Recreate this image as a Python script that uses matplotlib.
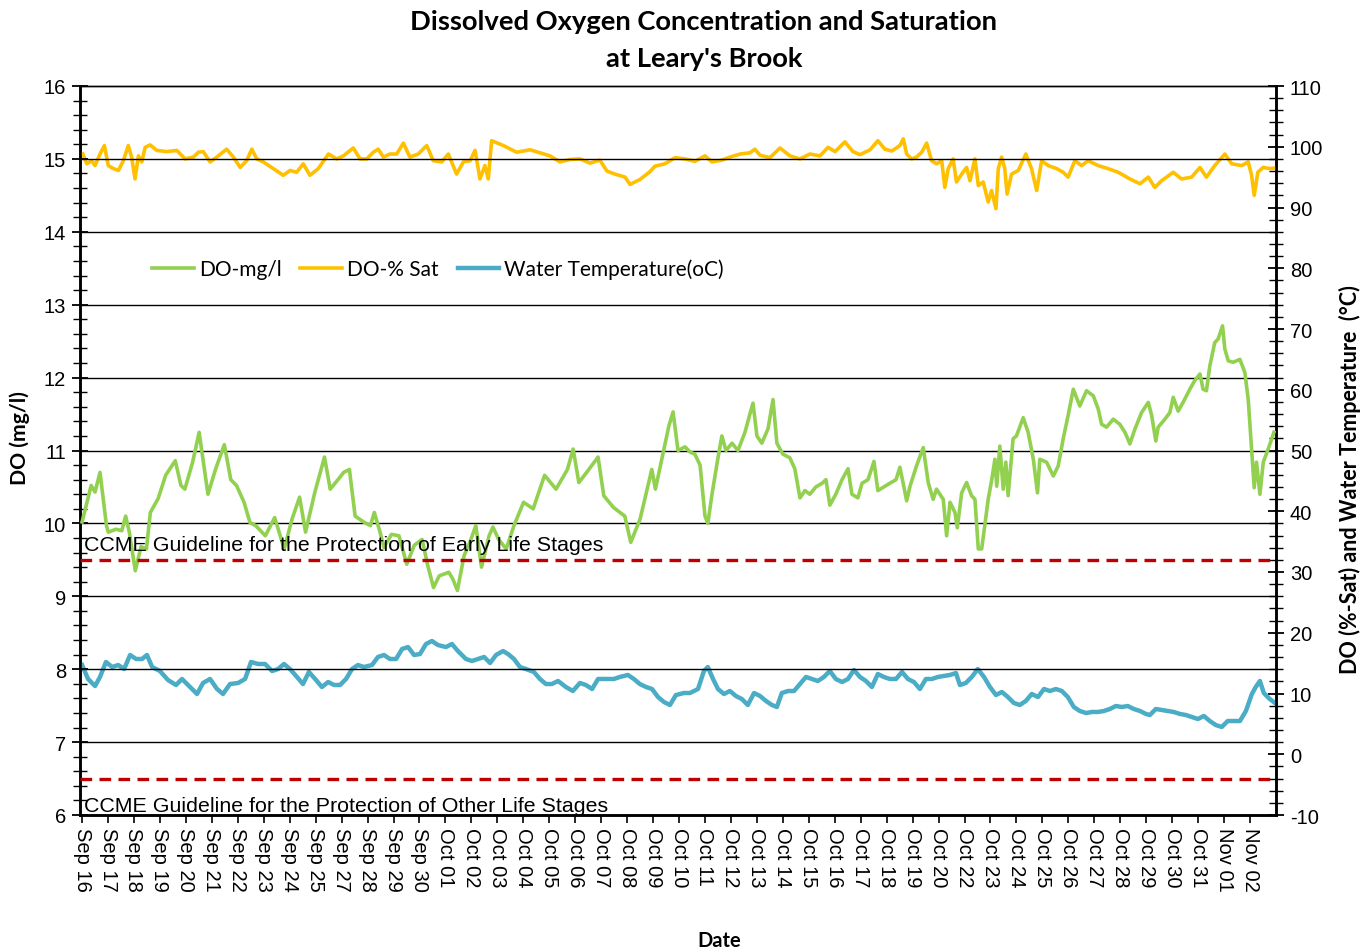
import matplotlib
matplotlib.use("Agg")
import matplotlib.pyplot as plt
from matplotlib.ticker import MultipleLocator, FixedLocator
import numpy as np

plt.rcParams["axes.unicode_minus"] = False

# ---------------- data (x in day-tick positions) ----------------
tick_labels = ["Sep 16", "Sep 17", "Sep 18", "Sep 19", "Sep 20", "Sep 21", "Sep 22", "Sep 23",
               "Sep 24", "Sep 25", "Sep 27", "Sep 28", "Sep 29", "Sep 30", "Oct 01", "Oct 02",
               "Oct 03", "Oct 04", "Oct 05", "Oct 06", "Oct 07", "Oct 08", "Oct 09", "Oct 10",
               "Oct 11", "Oct 12", "Oct 13", "Oct 14", "Oct 15", "Oct 16", "Oct 17", "Oct 18",
               "Oct 19", "Oct 20", "Oct 22", "Oct 23", "Oct 24", "Oct 25", "Oct 26", "Oct 27",
               "Oct 28", "Oct 29", "Oct 30", "Oct 31", "Nov 01", "Nov 02"]

do_mgl_t = [0.00, 0.35, 0.50, 0.69, 0.94, 1.01, 1.31, 1.53, 1.68, 1.82, 2.05, 2.27, 2.48, 2.63, 2.93,
            3.22, 3.59, 3.81, 3.96, 4.26, 4.51, 4.85, 5.14, 5.48, 5.73, 5.95, 6.24, 6.47, 6.69, 7.06,
            7.42, 7.79, 8.09, 8.38, 8.61, 8.97, 9.34, 9.56, 9.86, 10.08, 10.30, 10.52, 10.89, 11.11,
            11.26, 11.48, 11.63, 11.92, 12.21, 12.51, 12.80, 13.10, 13.32, 13.54, 13.76, 14.13, 14.28,
            14.46, 14.72, 14.94, 15.17, 15.39, 15.68, 15.83, 16.05, 16.34, 16.64, 17.01, 17.38, 17.82,
            18.26, 18.70, 18.92, 19.14, 19.44, 19.88, 20.10, 20.47, 20.91, 21.14, 21.50, 21.95, 22.09,
            22.61, 22.77, 22.96, 23.23, 23.42, 23.61, 23.81, 24.00, 24.11, 24.27, 24.50, 24.65, 24.81,
            25.04, 25.27, 25.54, 25.73, 25.85, 26.00, 26.19, 26.43, 26.62, 26.77, 27.00, 27.27, 27.46,
            27.66, 27.85, 28.04, 28.27, 28.51, 28.66, 28.81, 29.04, 29.28, 29.51, 29.66, 29.89, 30.05,
            30.28, 30.51, 30.66, 30.89, 31.12, 31.36, 31.51, 31.77, 31.90, 32.15, 32.41, 32.60, 32.79,
            32.92, 33.18, 33.31, 33.44, 33.63, 33.72, 33.89, 34.08, 34.27, 34.40, 34.53, 34.66, 34.78,
            34.91, 35.04, 35.17, 35.24, 35.36, 35.49, 35.59, 35.68, 35.87, 36.00, 36.26, 36.45, 36.65,
            36.81, 36.90, 37.16, 37.42, 37.61, 37.80, 37.99, 38.19, 38.44, 38.70, 38.96, 39.15, 39.28,
            39.47, 39.73, 39.98, 40.18, 40.37, 40.56, 40.82, 41.08, 41.21, 41.37, 41.46, 41.72, 41.91,
            42.04, 42.23, 42.42, 42.68, 42.87, 43.07, 43.19, 43.32, 43.45, 43.64, 43.77, 43.94, 44.03,
            44.16, 44.35, 44.61, 44.80, 44.93, 45.06, 45.16, 45.25, 45.38, 45.51, 45.70, 45.92]
do_mgl = [10.02, 10.52, 10.43, 10.70, 9.97, 9.88, 9.92, 9.90, 10.10, 9.88, 9.35, 9.68, 9.65, 10.15, 10.34,
          10.66, 10.86, 10.52, 10.47, 10.84, 11.25, 10.40, 10.74, 11.08, 10.60, 10.52, 10.29, 10.01, 9.97, 9.83,
          10.08, 9.65, 10.06, 10.36, 9.88, 10.43, 10.91, 10.47, 10.60, 10.70, 10.74, 10.10, 10.01, 9.97,
          10.15, 9.88, 9.67, 9.85, 9.83, 9.44, 9.70, 9.78, 9.42, 9.12, 9.28, 9.33, 9.24,
          9.08, 9.56, 9.74, 9.97, 9.40, 9.83, 9.95, 9.78, 9.65, 9.97, 10.29, 10.20, 10.66,
          10.47, 10.74, 11.02, 10.56, 10.70, 10.91, 10.38, 10.22, 10.10, 9.74, 10.06, 10.74, 10.47,
          11.34, 11.53, 11.00, 11.05, 10.98, 10.95, 10.80, 10.10, 10.00, 10.40, 10.90, 11.20, 11.00,
          11.10, 11.00, 11.25, 11.50, 11.65, 11.20, 11.10, 11.30, 11.70, 11.10, 10.95, 10.90, 10.75,
          10.35, 10.45, 10.40, 10.50, 10.55, 10.60, 10.25, 10.40, 10.60, 10.75, 10.40, 10.35, 10.55,
          10.60, 10.85, 10.45, 10.50, 10.55, 10.60, 10.77, 10.31, 10.51, 10.79, 11.04, 10.56, 10.33,
          10.47, 10.33, 9.83, 10.29, 10.15, 9.94, 10.42, 10.56, 10.38, 10.33, 9.65, 9.65, 9.97,
          10.33, 10.58, 10.88, 10.51, 11.06, 10.47, 10.84, 10.38, 11.16, 11.20, 11.45, 11.25, 10.88,
          10.42, 10.88, 10.84, 10.65, 10.79, 11.16, 11.48, 11.84, 11.61, 11.82, 11.75, 11.57, 11.36,
          11.32, 11.43, 11.36, 11.25, 11.09, 11.29, 11.52, 11.66, 11.48, 11.13, 11.32, 11.43, 11.52,
          11.73, 11.54, 11.66, 11.84, 11.96, 12.05, 11.84, 11.82, 12.16, 12.48, 12.53, 12.71, 12.39,
          12.23, 12.21, 12.25, 12.07, 11.70, 11.02, 10.49, 10.84, 10.40, 10.84, 11.02, 11.25]

do_sat_t = [0.03, 0.18, 0.37, 0.50, 0.69, 0.86, 1.01, 1.21, 1.40, 1.59, 1.78, 1.91, 2.04, 2.17, 2.30,
            2.43, 2.62, 2.88, 3.26, 3.65, 3.97, 4.29, 4.48, 4.67, 4.93, 5.19, 5.57, 5.83, 6.09, 6.34,
            6.54, 6.73, 6.98, 7.37, 7.75, 8.01, 8.27, 8.52, 8.78, 9.10, 9.49, 9.81, 10.07, 10.45, 10.71,
            10.97, 11.22, 11.41, 11.61, 11.86, 12.12, 12.38, 12.63, 12.95, 13.28, 13.53, 13.86, 14.11,
            14.43, 14.69, 14.95, 15.14, 15.33, 15.52, 15.65, 15.78, 16.23, 16.74, 17.26, 17.64, 18.03,
            18.41, 18.80, 19.18, 19.57, 19.95, 20.22, 20.53, 20.92, 21.11, 21.49, 21.88, 22.07, 22.46,
            22.84, 23.23, 23.61, 24.00, 24.27, 24.65, 24.96, 25.35, 25.73, 25.92, 26.12, 26.50, 26.89,
            27.27, 27.66, 28.04, 28.43, 28.74, 29.01, 29.39, 29.70, 29.97, 30.36, 30.66, 30.93, 31.20,
            31.51, 31.64, 31.77, 31.96, 32.15, 32.35, 32.54, 32.73, 32.92, 33.12, 33.24, 33.37, 33.56,
            33.69, 33.89, 34.08, 34.21, 34.40, 34.53, 34.72, 34.91, 35.04, 35.21, 35.30, 35.43, 35.55,
            35.64, 35.81, 36.07, 36.36, 36.58, 36.78, 36.97, 37.22, 37.55, 37.80, 37.99, 38.25, 38.51,
            38.76, 39.15, 39.53, 39.92, 40.37, 40.76, 41.08, 41.33, 41.59, 42.04, 42.36, 42.75, 43.07,
            43.32, 43.64, 44.03, 44.29, 44.68, 44.93, 45.06, 45.16, 45.30, 45.51, 45.76, 45.96]
do_sat = [98.8, 97.2, 97.7, 96.9, 98.8, 100.2, 96.9, 96.4, 96.1, 97.7, 100.2, 98.3, 94.7, 98.5, 97.5,
          99.9, 100.3, 99.4, 99.2, 99.4, 98.0, 98.3, 99.1, 99.2, 97.5, 98.3, 99.6, 98.3, 96.6, 97.7,
          99.6, 98.0, 97.5, 96.4, 95.3, 96.1, 95.8, 97.2, 95.3, 96.4, 98.8, 98.0, 98.5, 99.8, 98.0,
          98.0, 99.1, 99.6, 98.3, 98.8, 98.8, 100.6, 98.3, 98.8, 100.2, 97.7, 97.5, 98.8,
          95.5, 97.5, 97.7, 99.4, 94.7, 96.9, 94.7, 101.0, 100.2, 99.1, 99.5, 99.0, 98.5,
          97.5, 97.9, 98.0, 97.3, 97.8, 96.0, 95.5, 95.0, 93.8, 94.6, 95.9, 96.8, 97.2,
          98.2, 98.0, 97.6, 98.5, 97.5, 97.8, 98.3, 98.8, 99.0, 99.6, 98.6, 98.2, 99.8,
          98.5, 98.0, 98.8, 98.5, 99.9, 99.2, 100.8, 99.2, 98.7, 99.5, 101.0, 99.6, 99.3,
          100.2, 101.3, 98.8, 98.0, 98.3, 99.1, 100.6, 97.7, 97.2, 97.7, 93.3, 96.4, 98.0,
          94.2, 95.5, 96.6, 94.4, 98.0, 93.6, 94.2, 90.9, 92.8, 89.8, 96.4, 98.3, 96.4,
          92.2, 95.5, 96.1, 98.8, 96.4, 92.8, 97.7, 96.9, 96.4, 95.8, 95.0, 97.7, 96.9,
          97.7, 96.9, 96.4, 95.8, 94.7, 93.9, 95.0, 93.3, 94.4, 95.8, 94.7, 95.0, 96.6,
          95.0, 96.9, 98.8, 97.2, 96.9, 97.5, 95.3, 92.0, 95.8, 96.6, 96.4, 96.5]

temp_t = [0.00, 0.23, 0.50, 0.69, 0.92, 1.16, 1.39, 1.62, 1.85, 2.08, 2.31, 2.50, 2.70, 3.00, 3.31,
          3.62, 3.85, 4.16, 4.43, 4.66, 4.93, 5.20, 5.43, 5.70, 6.01, 6.28, 6.51, 6.78, 7.05, 7.32,
          7.55, 7.78, 8.01, 8.28, 8.51, 8.74, 8.98, 9.24, 9.48, 9.71, 9.94, 10.17, 10.40, 10.63, 10.86,
          11.17, 11.40, 11.63, 11.86, 12.10, 12.33, 12.56, 12.79, 13.02, 13.25, 13.48, 13.71, 14.02,
          14.25, 14.48, 14.79, 15.02, 15.25, 15.49, 15.72, 15.95, 16.22, 16.41, 16.64, 16.87, 17.10,
          17.41, 17.64, 17.87, 18.10, 18.34, 18.64, 18.91, 19.18, 19.41, 19.65, 19.88, 20.18, 20.49,
          20.72, 21.03, 21.26, 21.49, 21.73, 21.96, 22.19, 22.42, 22.65, 22.88, 23.19, 23.42, 23.73,
          23.96, 24.11, 24.31, 24.50, 24.73, 24.96, 25.19, 25.42, 25.65, 25.89, 26.12, 26.35, 26.58,
          26.77, 26.96, 27.20, 27.43, 27.66, 27.89, 28.12, 28.35, 28.58, 28.81, 29.04, 29.28, 29.51,
          29.74, 29.97, 30.20, 30.43, 30.66, 30.89, 31.12, 31.36, 31.59, 31.82, 32.05, 32.28, 32.51,
          32.74, 32.97, 33.21, 33.44, 33.67, 33.82, 34.05, 34.28, 34.51, 34.75, 34.98, 35.21, 35.44,
          35.67, 35.90, 36.13, 36.36, 36.59, 36.83, 37.06, 37.29, 37.52, 37.75, 37.98, 38.21, 38.44,
          38.68, 38.91, 39.14, 39.37, 39.60, 39.83, 40.06, 40.29, 40.52, 40.76, 40.99, 41.14, 41.37,
          41.60, 41.83, 42.06, 42.30, 42.53, 42.76, 42.99, 43.22, 43.45, 43.68, 43.91, 44.14, 44.38,
          44.61, 44.84, 45.07, 45.22, 45.38, 45.53, 45.76, 45.96]
temp = [14.69, 12.39, 11.23, 12.72, 15.19, 14.36, 14.69, 14.03, 16.34, 15.68, 15.68, 16.34, 14.36, 13.70, 12.22,
        11.40, 12.39, 11.07, 9.92, 11.73, 12.39, 10.74, 9.92, 11.56, 11.73, 12.39, 15.19, 14.86, 14.86, 13.70,
        14.03, 14.86, 14.03, 12.72, 11.56, 13.54, 12.39, 11.07, 11.89, 11.40, 11.40, 12.39, 14.03, 14.69, 14.36,
        14.69, 16.01, 16.34, 15.68, 15.68, 17.33, 17.65, 16.34, 16.50, 18.15, 18.64, 17.98, 17.65,
        18.15, 16.99, 15.68, 15.35, 15.68, 16.01, 15.02, 16.34, 16.99, 16.50, 15.68, 14.36, 14.03,
        13.54, 12.39, 11.56, 11.56, 12.06, 11.07, 10.41, 11.73, 11.40, 10.74, 12.39, 12.39, 12.39,
        12.72, 13.05, 12.39, 11.56, 11.07, 10.74, 9.42, 8.60, 8.11, 9.75, 10.08, 10.08, 10.74,
        13.70, 14.36, 12.39, 10.74, 9.92, 10.41, 9.59, 9.09, 8.11, 10.08, 9.59, 8.77, 8.11,
        7.78, 10.08, 10.41, 10.41, 11.56, 12.72, 12.39, 12.06, 12.72, 13.70, 12.39, 11.89, 12.39,
        13.87, 12.72, 12.06, 11.07, 13.21, 12.72, 12.39, 12.39, 13.54, 12.39, 11.89, 10.74, 12.39,
        12.39, 12.72, 12.88, 13.05, 13.37, 11.40, 11.73, 12.72, 14.03, 12.72, 11.07, 9.75, 10.25,
        9.42, 8.44, 8.11, 8.77, 9.92, 9.42, 10.74, 10.41, 10.74, 10.41, 9.42, 7.78, 7.12,
        6.79, 6.96, 6.96, 7.12, 7.45, 7.94, 7.78, 7.94, 7.45, 7.12, 6.63, 6.46, 7.45,
        7.28, 7.12, 6.96, 6.63, 6.46, 6.13, 5.80, 6.30, 5.47, 4.81, 4.49, 5.47, 5.47,
        5.47, 7.12, 9.92, 11.07, 12.06, 10.08, 9.09, 8.44]

guide_early = 9.5
guide_other = 6.5

# ---------------- figure ----------------
fig = plt.figure(figsize=(13.72, 9.53), dpi=100)
ax = fig.add_axes([80/1372, 1-816/953, (1276-80)/1372, (816-87)/953])
ax2 = ax.twinx()

cal = ["Lato", "DejaVu Sans"]
ari = ["Liberation Sans", "DejaVu Sans"]

ax.set_xlim(-0.08, 46.0)
ax.set_ylim(6, 16)
ax2.set_ylim(-10, 110)

# grid
for v in range(7, 16):
    ax.axhline(v, color="black", lw=1.0, zorder=1)

l1, = ax.plot(do_mgl_t, do_mgl, color="#92D050", lw=2.6, zorder=3, label="DO-mg/l")
l2, = ax2.plot(do_sat_t, do_sat, color="#FFC000", lw=2.6, zorder=3, label="DO-% Sat")
l3, = ax2.plot(temp_t, temp, color="#4BACC6", lw=3.2, zorder=3, label="Water Temperature(oC)")

ax.axhline(guide_early, color="#C00000", lw=2.4, ls=(0, (3.5, 2.2)), zorder=4)
ax.axhline(guide_other, color="#C00000", lw=2.4, ls=(0, (3.5, 2.2)), zorder=4)

ax.text(0.08, guide_early + 0.08, "CCME Guideline for the Protection of Early Life Stages",
        family=ari, fontsize=15.4, va="bottom", ha="left", zorder=6)
ax.text(0.08, 6.0, "CCME Guideline for the Protection of Other Life Stages",
        family=ari, fontsize=15.4, va="bottom", ha="left", zorder=6)

# axes on top
ax.set_zorder(ax2.get_zorder() + 1)
ax.patch.set_visible(False)
ax2.set_zorder(0)

# ticks
ax.yaxis.set_major_locator(MultipleLocator(1))
ax.yaxis.set_minor_locator(MultipleLocator(0.2))
ax2.yaxis.set_major_locator(MultipleLocator(10))
ax2.yaxis.set_minor_locator(MultipleLocator(2))
ax.xaxis.set_major_locator(FixedLocator(range(len(tick_labels))))
ax.set_xticklabels(tick_labels, rotation=-90, family=ari, fontsize=14.5)
ax.tick_params(axis="x", which="major", direction="out", length=6, width=1.2, pad=3)
ax.tick_params(axis="y", which="major", direction="inout", length=12, width=1.3, labelsize=14.5, pad=4)
ax.tick_params(axis="y", which="minor", direction="inout", length=10, width=1.0)
ax2.tick_params(axis="y", which="major", direction="inout", length=12, width=1.3, labelsize=14.5, pad=4)
ax2.tick_params(axis="y", which="minor", direction="inout", length=10, width=1.0)
for lab in ax.get_yticklabels() + ax2.get_yticklabels():
    lab.set_family(ari)

for a in (ax, ax2):
    for s in ("left", "right", "bottom"):
        a.spines[s].set_linewidth(1.8)
    a.spines["top"].set_linewidth(1.0)

ax.set_ylabel("DO (mg/l)", family=cal, fontweight="bold", fontsize=15.3, va="center")
ax.yaxis.set_label_coords(-(80-20)/1196, (816-438)/(816-87))
ax2.set_ylabel("DO (%-Sat) and Water Temperature  (°C)", family=cal, fontweight="bold",
               fontsize=15.5, va="center")
ax2.yaxis.set_label_coords(1.0 + (1350-1276)/1196, (816-480)/(816-87))
ax.set_xlabel("Date", family=cal, fontweight="bold", fontsize=14.5, va="center")
ax.xaxis.set_label_coords((719-80)/1196, -(941-816)/729)

fig.text(704/1372, 1-22/953, "Dissolved Oxygen Concentration and Saturation", family=cal,
         fontweight="bold", fontsize=19.7, ha="center", va="center")
fig.text(704/1372, 1-59/953, "at Leary's Brook", family=cal,
         fontweight="bold", fontsize=19.7, ha="center", va="center")

leg = fig.legend(handles=[l1, l2, l3], loc="center left", bbox_to_anchor=(152/1372, 1-270/953),
                 ncol=3, frameon=False, prop={"family": cal, "size": 15}, handlelength=2.0,
                 handletextpad=0.25, columnspacing=0.9, borderaxespad=0, borderpad=0)

fig.savefig("out.png", dpi=100)
